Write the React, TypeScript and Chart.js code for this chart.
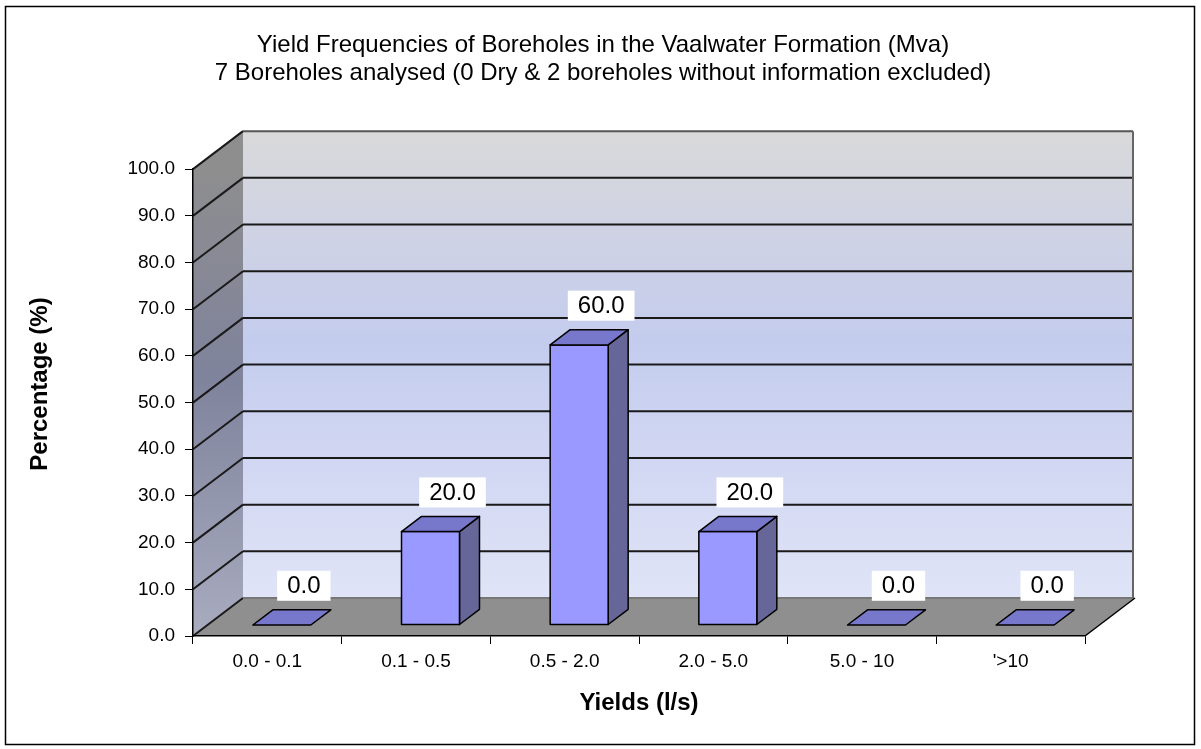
import React, { useEffect, useRef } from "react";
import { Chart, registerables } from "chart.js";

Chart.register(...registerables);

// ---- data ----
const categories = ["0.0 - 0.1", "0.1 - 0.5", "0.5 - 2.0", "2.0 - 5.0", "5.0 - 10", "'>10"];
const percentages = [0, 20, 60, 20, 0, 0];
const titleLines = [
  "Yield Frequencies of Boreholes in the Vaalwater Formation (Mva)",
  "7 Boreholes analysed (0 Dry & 2 boreholes without information excluded)",
];
const xTitle = "Yields (l/s)";
const yTitle = "Percentage (%)";
const yMin = 0;
const yMax = 100;
const yStep = 10;

// ---- style ----
const FONT = "'Liberation Sans', Arial, Helvetica, sans-serif";
const DEPTH_X = 50;
const DEPTH_Y = 38;
const BAR_FRONT = 0.29;
const BAR_BACK = 0.69;

const threeD = {
  id: "threeD",
  beforeDraw(chart: any) {
    const { ctx, chartArea: a, scales } = chart;
    const y = scales.y;
    ctx.save();
    // outer frame
    ctx.strokeStyle = "#000";
    ctx.lineWidth = 1.5;
    ctx.strokeRect(5.5, 6.5, 1189, 738);

    const top = y.getPixelForValue(yMax);
    const bot = y.getPixelForValue(yMin);
    const L = a.left;
    const R = a.right;

    // back wall
    const g = ctx.createLinearGradient(0, top - DEPTH_Y, 0, bot - DEPTH_Y);
    g.addColorStop(0, "#d9d9da");
    g.addColorStop(0.45, "#c4ccee");
    g.addColorStop(1, "#e0e4f7");
    ctx.fillStyle = g;
    ctx.fillRect(L + DEPTH_X, top - DEPTH_Y, R - L - 2, bot - top);

    // side wall
    const sg = ctx.createLinearGradient(0, top, 0, bot);
    sg.addColorStop(0, "#8e8e8f");
    sg.addColorStop(0.45, "#7f839c");
    sg.addColorStop(1, "#a9acbf");
    ctx.fillStyle = sg;
    ctx.beginPath();
    ctx.moveTo(L, bot);
    ctx.lineTo(L, top);
    ctx.lineTo(L + DEPTH_X, top - DEPTH_Y);
    ctx.lineTo(L + DEPTH_X, bot - DEPTH_Y);
    ctx.closePath();
    ctx.fill();

    // floor
    ctx.fillStyle = "#8f8f8f";
    ctx.beginPath();
    ctx.moveTo(L, bot);
    ctx.lineTo(R, bot);
    ctx.lineTo(R + DEPTH_X, bot - DEPTH_Y);
    ctx.lineTo(L + DEPTH_X, bot - DEPTH_Y);
    ctx.closePath();
    ctx.fill();

    // grid lines on walls
    y.ticks.forEach((t: any) => {
      const py = y.getPixelForValue(t.value);
      const isZero = t.value === yMin;
      const isTop = t.value === yMax;
      ctx.lineWidth = 2;
      ctx.strokeStyle = "#1a1a1a";
      ctx.beginPath();
      ctx.moveTo(L, py);
      ctx.lineTo(L + DEPTH_X, py - DEPTH_Y);
      ctx.stroke();
      ctx.strokeStyle = isZero ? "#777" : isTop ? "#555" : "#1a1a1a";
      ctx.beginPath();
      ctx.moveTo(L + DEPTH_X, py - DEPTH_Y);
      ctx.lineTo(R + DEPTH_X - 2, py - DEPTH_Y);
      ctx.stroke();
    });
    // right edge of back wall
    ctx.strokeStyle = "#666";
    ctx.lineWidth = 2;
    ctx.beginPath();
    ctx.moveTo(R + DEPTH_X - 2, top - DEPTH_Y);
    ctx.lineTo(R + DEPTH_X - 2, bot - DEPTH_Y);
    ctx.stroke();
    // right edge of floor
    ctx.strokeStyle = "#000";
    ctx.lineWidth = 1.5;
    ctx.beginPath();
    ctx.moveTo(R, bot);
    ctx.lineTo(R + DEPTH_X, bot - DEPTH_Y);
    ctx.stroke();
    ctx.restore();
  },
  afterDatasetsDraw(chart: any) {
    const { ctx } = chart;
    const meta = chart.getDatasetMeta(0);
    const fx = BAR_FRONT * DEPTH_X;
    const fy = BAR_FRONT * DEPTH_Y;
    const bx = (BAR_BACK - BAR_FRONT) * DEPTH_X;
    const by = (BAR_BACK - BAR_FRONT) * DEPTH_Y;
    ctx.save();
    ctx.lineJoin = "round";
    ctx.strokeStyle = "#000";
    ctx.lineWidth = 1.5;
    meta.data.forEach((el: any, i: number) => {
      const { x, y, base, width } = el.getProps(["x", "y", "base", "width"], true);
      const l = x - width / 2 + fx;
      const r = x + width / 2 + fx;
      const t = y - fy;
      const b = base - fy;
      if (b - t > 0.5) {
        // side face
        ctx.fillStyle = "#666699";
        ctx.beginPath();
        ctx.moveTo(r, b);
        ctx.lineTo(r, t);
        ctx.lineTo(r + bx, t - by);
        ctx.lineTo(r + bx, b - by);
        ctx.closePath();
        ctx.fill();
        ctx.stroke();
        // front face
        ctx.fillStyle = "#9999ff";
        ctx.beginPath();
        ctx.rect(l, t, r - l, b - t);
        ctx.fill();
        ctx.stroke();
      }
      // top face
      ctx.fillStyle = "#7777cc";
      ctx.beginPath();
      ctx.moveTo(l, t);
      ctx.lineTo(r, t);
      ctx.lineTo(r + bx, t - by);
      ctx.lineTo(l + bx, t - by);
      ctx.closePath();
      ctx.fill();
      ctx.stroke();

      // data label
      const txt = Number(percentages[i]).toFixed(1);
      ctx.font = `24px ${FONT}`;
      const tw = ctx.measureText(txt).width;
      const bw = tw + 20;
      const bh = 30;
      const cx = x + fx + bx + 2;
      const bottom = t - by - 9;
      ctx.fillStyle = "#fff";
      ctx.fillRect(cx - bw / 2, bottom - bh, bw, bh);
      ctx.fillStyle = "#000";
      ctx.textAlign = "center";
      ctx.textBaseline = "middle";
      ctx.fillText(txt, cx, bottom - bh / 2 + 1);
    });
    ctx.restore();
  },
  afterDraw(chart: any) {
    const { ctx } = chart;
    ctx.save();
    ctx.translate(40, 384);
    ctx.rotate(-Math.PI / 2);
    ctx.font = `bold 24px ${FONT}`;
    ctx.fillStyle = "#000";
    ctx.textAlign = "center";
    ctx.textBaseline = "middle";
    ctx.fillText(yTitle, 0, 0);
    ctx.restore();
  },
};

export default function App() {
  const ref = useRef<HTMLCanvasElement | null>(null);
  useEffect(() => {
    if (!ref.current) return;
    const chart = new Chart(ref.current, {
      type: "bar",
      data: {
        labels: categories,
        datasets: [
          {
            data: percentages,
            backgroundColor: "rgba(0,0,0,0)",
            borderWidth: 0,
            barPercentage: 0.39,
            categoryPercentage: 1,
          },
        ],
      },
      options: {
        responsive: false,
        animation: false,
        devicePixelRatio: 1,
        layout: { padding: { left: 121, right: 116, top: 0, bottom: 13 } },
        plugins: {
          legend: { display: false },
          tooltip: { enabled: false },
          title: {
            display: true,
            text: titleLines,
            color: "#000",
            font: { family: FONT, size: 24, weight: "normal", lineHeight: 1.17 },
            padding: { top: 31, bottom: 82 },
          },
        },
        scales: {
          x: {
            type: "category",
            offset: true,
            grid: {
              display: true,
              offset: true,
              drawOnChartArea: false,
              drawTicks: true,
              tickLength: 8,
              color: "#000",
              lineWidth: 1,
            },
            border: { display: true, color: "#000", width: 1.5 },
            ticks: {
              color: "#000",
              font: { family: FONT, size: 19 },
              padding: 6,
              maxRotation: 0,
              autoSkip: false,
            },
            title: {
              display: true,
              text: xTitle,
              color: "#000",
              font: { family: FONT, size: 24, weight: "bold", lineHeight: 1.2 },
              padding: { top: 0, bottom: 18.6 },
            },
            afterFit: (s: any) => {
              s.height = 100;
            },
          },
          y: {
            min: yMin,
            max: yMax,
            ticks: {
              stepSize: yStep,
              color: "#000",
              font: { family: FONT, size: 19 },
              padding: 10,
              callback: (v: any) => Number(v).toFixed(1),
            },
            grid: {
              drawOnChartArea: false,
              drawTicks: true,
              tickLength: 8,
              color: "#000",
              lineWidth: 1,
            },
            border: { display: true, color: "#000", width: 1.5 },
            title: { display: false },
            afterFit: (s: any) => {
              s.width = 72;
            },
          },
        },
      } as any,
      plugins: [threeD],
    });
    return () => chart.destroy();
  }, []);
  return (
    <div style={{ position: "fixed", left: 0, top: 0, width: 1201, height: 749, background: "#fff" }}>
      <canvas ref={ref} width={1201} height={749} style={{ display: "block" }} />
    </div>
  );
}
